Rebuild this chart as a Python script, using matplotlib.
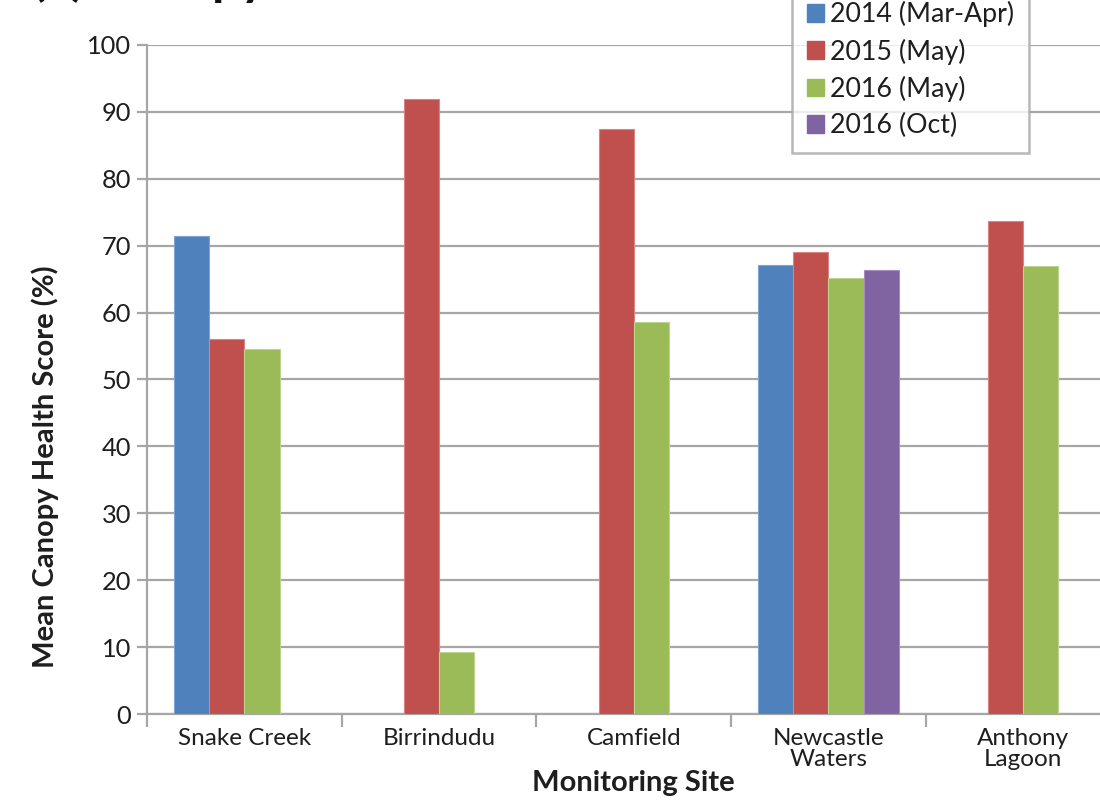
import matplotlib
matplotlib.use("Agg")
import matplotlib.pyplot as plt
from matplotlib.patches import Patch
import numpy as np

plt.rcParams['font.family'] = ['Lato', 'DejaVu Sans']

# Monitoring sites and survey periods
sites = ["Snake Creek", "Birrindudu", "Camfield", "Newcastle\nWaters", "Anthony\nLagoon"]
series_names = ["2014 (Mar-Apr)", "2015 (May)", "2016 (May)", "2016 (Oct)"]
colors = ["#4F81BD", "#C0504D", "#9BBB59", "#8064A2"]
edge_colors = ["#7FA3D3", "#D98482", "#BCD48C", "#A28DBD"]

# Mean canopy health score (%) per site; None = not surveyed
score_2014_mar_apr = [71.4, None, None, 67.1, None]
score_2015_may = [56.1, 92.0, 87.5, 69.1, 73.7]
score_2016_may = [54.5, 9.3, 58.6, 65.2, 67.0]
score_2016_oct = [None, None, None, 66.4, None]
series = [score_2014_mar_apr, score_2015_may, score_2016_may, score_2016_oct]

yticks = [0, 10, 20, 30, 40, 50, 60, 70, 80, 90, 100]

W, H = 1100, 801
fig = plt.figure(figsize=(W / 100, H / 100), dpi=100)
left, right, top, bottom = 147, 1120.5, 45, 714
ax = fig.add_axes([left / W, 1 - bottom / H, (right - left) / W, (bottom - top) / H])

grid_c = "#A6A6A6"
text_c = "#1E1E1E"
bar_w = 0.181
x = np.arange(len(sites))
for j, (vals, c, ec) in enumerate(zip(series, colors, edge_colors)):
    for i, v in enumerate(vals):
        if v is None:
            continue
        ax.bar(x[i] + (j - 1.5) * bar_w, v, width=bar_w, color=c,
               edgecolor=ec, linewidth=0.8, zorder=3)

ax.set_xlim(-0.5, len(sites) - 0.5)
ax.set_ylim(0, 100)
ax.set_yticks(yticks)
ax.yaxis.grid(True, color=grid_c, linewidth=1.6, zorder=0)
ax.set_axisbelow(True)

for s in ("top", "right"):
    ax.spines[s].set_visible(False)
for s in ("left", "bottom"):
    ax.spines[s].set_color(grid_c)
    ax.spines[s].set_linewidth(1.6)

# category boundary ticks and centred labels
ax.set_xticks(np.arange(len(sites) + 1) - 0.5)
ax.set_xticklabels([])
ax.set_xticks(x, minor=True)
ax.set_xticklabels(sites, minor=True, fontsize=17.5, color=text_c,
                   linespacing=1.0)
ax.tick_params(axis="x", which="major", length=9, width=1.6, color=grid_c,
               direction="out")
ax.tick_params(axis="x", which="minor", length=0, pad=10)
ax.tick_params(axis="y", length=7, width=1.6, color=grid_c, pad=4.5,
               labelsize=18.3, labelcolor=text_c)

ax.set_ylabel("Mean Canopy Health Score (%)", fontsize=21, fontweight="bold",
              color=text_c, labelpad=20, y=0.369)
ax.set_xlabel("Monitoring Site", fontsize=21, fontweight="bold",
              color=text_c, labelpad=0)

# panel title, partly above the top edge
fig.text(32 / W, 1 + 5 / H, "(a) Canopy", fontsize=36, fontweight="bold",
         color="#111111", ha="left", va="baseline")

handles = [Patch(facecolor=c, edgecolor=c) for c in colors]
leg = fig.legend(handles, series_names, loc="lower left",
                 bbox_to_anchor=(792 / W, 1 - 153 / H), borderaxespad=0,
                 fontsize=19.3, frameon=True, fancybox=False,
                 handlelength=0.63, handleheight=0.63, handletextpad=0.25,
                 labelspacing=0.42, borderpad=0.55, labelcolor=text_c)
leg.get_frame().set_edgecolor(grid_c)
leg.get_frame().set_linewidth(1.8)

fig.savefig("out.png", dpi=100)
